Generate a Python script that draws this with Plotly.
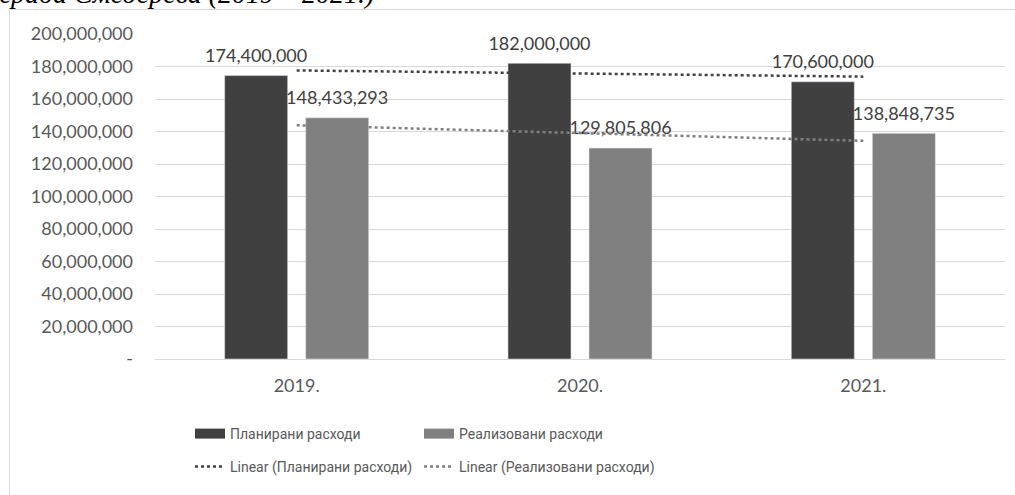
import numpy as np
import plotly.graph_objects as go

# data
years = ["2019.", "2020.", "2021."]
planned = [174400000, 182000000, 170600000]
realized = [148433293, 129805806, 138848735]
y_tick_vals = [0, 20000000, 40000000, 60000000, 80000000, 100000000,
               120000000, 140000000, 160000000, 180000000, 200000000]
y_tick_text = ["-", "20,000,000", "40,000,000", "60,000,000", "80,000,000",
               "100,000,000", "120,000,000", "140,000,000", "160,000,000",
               "180,000,000", "200,000,000"]

name_planned = "Планирани расходи"
name_realized = "Реализовани расходи"
title_text = "града Смедерева (2019 – 2021.)"

DARK = "#404040"
GREY = "#808080"
TEXT = "#595959"
GRID = "#d9d9d9"
NUM_FONT = "Lato, Open Sans, sans-serif"
LEG_FONT = "Liberation Sans Narrow, Roboto, sans-serif"

W, H = 1015, 495
M_L, M_R, M_T, M_B = 155, 10, 34, 136

# Excel-style linear trendlines over category index
idx = np.arange(len(years))
trend_planned = np.polyval(np.polyfit(idx, planned, 1), idx)
trend_realized = np.polyval(np.polyfit(idx, realized, 1), idx)

fig = go.Figure()

# bars
fig.add_trace(go.Bar(x=years, y=planned, name=name_planned, marker_color=DARK,
                     showlegend=False, offsetgroup="p"))
fig.add_trace(go.Bar(x=years, y=realized, name=name_realized, marker_color=GREY,
                     showlegend=False, offsetgroup="r"))

# data labels above the bars (invisible markers give the gap)
for vals, grp in [(planned, "p"), (realized, "r")]:
    fig.add_trace(go.Scatter(
        x=years, y=vals, mode="markers+text",
        marker=dict(size=13, color="rgba(0,0,0,0)"),
        text=["{:,}".format(v) for v in vals],
        textposition="top center",
        textfont=dict(family=NUM_FONT, size=18, color=DARK),
        offsetgroup=grp, alignmentgroup="lab",
        showlegend=False, hoverinfo="skip"))

# trendlines
fig.add_trace(go.Scatter(x=years, y=trend_planned, mode="lines",
                         line=dict(color=DARK, width=2.5, dash="dot"),
                         name="Linear (" + name_planned + ")", legend="legend3",
                         offsetgroup="t", alignmentgroup="trend"))
fig.add_trace(go.Scatter(x=years, y=trend_realized, mode="lines",
                         line=dict(color=GREY, width=2.5, dash="dot"),
                         name="Linear (" + name_realized + ")", legend="legend4",
                         offsetgroup="t", alignmentgroup="trend"))

# legend-only entries with wide block symbols for the bars
fig.add_trace(go.Scatter(x=[None], y=[None], mode="lines",
                         line=dict(color=DARK, width=10), name=name_planned,
                         legend="legend", alignmentgroup="leg"))
fig.add_trace(go.Scatter(x=[None], y=[None], mode="lines",
                         line=dict(color=GREY, width=10), name=name_realized,
                         legend="legend2", alignmentgroup="leg"))

legend_common = dict(
    orientation="h", xref="container", yref="container",
    xanchor="left", yanchor="top",
    font=dict(family=LEG_FONT, size=14, color=TEXT),
    bgcolor="rgba(0,0,0,0)",
)
col1, col2 = 190 / W, 419 / W
row1, row2 = 1 - 418 / H, 1 - 451 / H

fig.update_layout(
    width=W, height=H,
    margin=dict(l=M_L, r=M_R, t=M_T, b=M_B, autoexpand=False),
    paper_bgcolor="white", plot_bgcolor="white",
    barmode="group", bargap=0.428, bargroupgap=0.222,
    scattermode="group", scattergap=0.428,
    legend=dict(legend_common, x=col1, y=row1),
    legend2=dict(legend_common, x=col2, y=row1),
    legend3=dict(legend_common, x=col1, y=row2),
    legend4=dict(legend_common, x=col2, y=row2),
    xaxis=dict(
        range=[-0.5, 2.5],
        showgrid=False, showline=True, linecolor=GRID, linewidth=1,
        ticks="", ticklabelstandoff=10,
        tickfont=dict(family=NUM_FONT, size=18, color=TEXT),
    ),
    yaxis=dict(
        range=[0, 200000000], tickvals=y_tick_vals, ticktext=y_tick_text,
        showgrid=True, gridcolor=GRID, gridwidth=1, zeroline=False,
        showline=False, ticks="", ticklabelstandoff=21,
        tickfont=dict(family=NUM_FONT, size=18, color=TEXT),
    ),
    hovermode=False,
)

# chart frame (cropped at the right and bottom) and cut-off caption
pw, ph = W - M_L - M_R, H - M_T - M_B
fig.add_shape(type="rect", xref="paper", yref="paper",
              x0=(9.5 - M_L) / pw, x1=(W + 20 - M_L) / pw,
              y0=-(M_B + 20) / ph, y1=(H - M_B - 9.5) / ph,
              line=dict(color=GRID, width=1), layer="below")
fig.add_annotation(xref="paper", yref="paper",
                   x=(376 - M_L) / pw, y=(H - M_B - 11) / ph,
                   xanchor="right", yanchor="bottom", showarrow=False,
                   text="<i>" + title_text + "</i>",
                   font=dict(family="Liberation Serif, serif", size=28, color="black"))

# drop the default page margin so the figure sits at the window corner
fig.write_html("out.html", config={"displayModeBar": False},
               post_script="document.body.style.margin = '0';")
